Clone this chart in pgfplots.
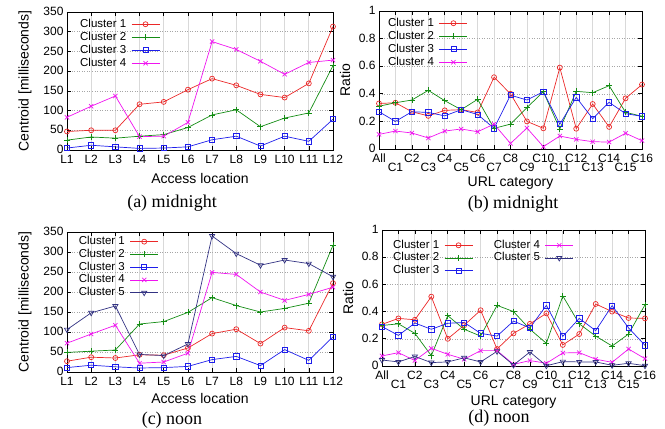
\documentclass[border=0pt]{standalone}
\usepackage{fontspec}
\setmainfont{Liberation Sans}
\newfontfamily\capfont{Liberation Serif}
\usepackage{pgfplots}
\pgfplotsset{compat=1.18}

\definecolor{cA}{RGB}{235,40,40}
\definecolor{cB}{RGB}{20,140,20}
\definecolor{cC}{RGB}{30,30,235}
\definecolor{cD}{RGB}{240,20,240}
\definecolor{cE}{RGB}{50,50,130}

\pgfplotsset{
  cl1/.style={cA, mark=o, mark size=2.5pt, line width=0.7pt, mark options={solid}},
  cl2/.style={cB, mark=+, mark size=3pt, line width=0.7pt, mark options={solid}},
  cl3/.style={cC, mark=square, mark size=2.6pt, line width=0.7pt, mark options={solid}},
  cl4/.style={cD, mark=x, mark size=3pt, line width=0.7pt, mark options={solid}},
  cl5/.style={cE, mark=triangle, mark size=3pt, line width=0.7pt, mark options={solid, rotate=180}},
  base/.style={
    scale only axis,
    clip=false,
    axis line style={line width=0.8pt},
    tick align=inside,
    major tick length=4pt,
    tick style={black, line width=0.6pt},
    grid=major,
    x grid style={gray!30, line width=0.8pt},
    y grid style={gray!70, line width=0.5pt, dotted},
    tick label style={font=\fontsize{12}{12}\selectfont},
    xticklabel style={yshift=-1.5pt},
    yticklabel style={yshift=0.5pt},
    label style={font=\fontsize{14}{14}\selectfont},
    /pgf/number format/assume math mode=true,
    legend plot pos=right,
    legend cell align=left,
    legend image code/.code={\draw[mark repeat=2,mark phase=2,##1] plot coordinates {(0pt,0pt)(14pt,0pt)(28pt,0pt)};},
    legend style={draw=none, fill=none, inner sep=0pt, anchor=north west,
      font=\fontsize{11.5}{12}\selectfont,
      nodes={inner sep=1pt, text height=8.5pt, text depth=2.5pt},
      /tikz/every odd column/.append style={column sep=4pt}},
  },
  lat/.style={
    xmin=1, xmax=12, ymin=0, ymax=350,
    xtick={1,...,12},
    xticklabels={L1,L2,L3,L4,L5,L6,L7,L8,L9,L10,L11,L12},
    ytick={0,50,...,350},
    xlabel={Access location},
    ylabel={Centroid [milliseconds]},
  },
  url/.style={
    xmin=0, xmax=16, ymin=0, ymax=1,
    xtick={0,2,...,16},
    xticklabels={All,C2,C4,C6,C8,C10,C12,C14,C16},
    extra x ticks={1,3,...,15},
    extra x tick labels={C1,C3,C5,C7,C9,C11,C13,C15},
    extra x tick style={grid=major, xticklabel style={yshift=-9.5pt}},
    ytick={0,0.2,0.4,0.6,0.8,1},
    yticklabels={0,0.2,0.4,0.6,0.8,1},
    xlabel={URL category},
    ylabel={Ratio},
  },
}

\begin{document}
\begin{tikzpicture}
\useasboundingbox (0,0) rectangle (665pt,429pt);

% (a) midnight, access location
\begin{axis}[base, lat, at={(67pt,279pt)}, anchor=south west, width=266pt, height=138pt,
  xlabel style={at={(axis description cs:0.5,-0.203)}, anchor=center},
  ylabel style={at={(axis description cs:-0.158,0.5)}, anchor=center},
  legend style={at={(axis description cs:0.045,0.96)}}]
\addplot[cl1] coordinates {(1,47)(2,50)(3,50)(4,116)(5,122)(6,153)(7,181)(8,164)(9,141)(10,133)(11,169)(12,313)};
\addlegendentry{Cluster 1}
\addplot[cl2] coordinates {(1,25)(2,33)(3,30)(4,35)(5,39)(6,57)(7,89)(8,102)(9,59)(10,81)(11,94)(12,214)};
\addlegendentry{Cluster 2}
\addplot[cl3] coordinates {(1,5)(2,12)(3,8)(4,4)(5,5)(6,8)(7,26)(8,35)(9,10)(10,35)(11,22)(12,78)};
\addlegendentry{Cluster 3}
\addplot[cl4] coordinates {(1,83)(2,111)(3,137)(4,34)(5,35)(6,70)(7,275)(8,255)(9,225)(10,192)(11,222)(12,228)};
\addlegendentry{Cluster 4}
\end{axis}

% (b) midnight, URL category
\begin{axis}[base, url, at={(379pt,280pt)}, anchor=south west, width=263pt, height=138pt,
  xlabel style={at={(axis description cs:0.5,-0.246)}, anchor=center},
  ylabel style={at={(axis description cs:-0.129,0.5)}, anchor=center},
  legend style={at={(axis description cs:0.03,0.96)}}]
\addplot[cl1] coordinates {(0,0.33)(1,0.335)(2,0.27)(3,0.24)(4,0.28)(5,0.285)(6,0.265)(7,0.52)(8,0.40)(9,0.20)(10,0.15)(11,0.59)(12,0.147)(13,0.326)(14,0.16)(15,0.367)(16,0.467)};
\addlegendentry{Cluster 1}
\addplot[cl2] coordinates {(0,0.31)(1,0.335)(2,0.355)(3,0.425)(4,0.35)(5,0.285)(6,0.36)(7,0.15)(8,0.18)(9,0.30)(10,0.415)(11,0.145)(12,0.418)(13,0.408)(14,0.459)(15,0.266)(16,0.237)};
\addlegendentry{Cluster 2}
\addplot[cl3] coordinates {(0,0.27)(1,0.20)(2,0.27)(3,0.265)(4,0.24)(5,0.285)(6,0.25)(7,0.15)(8,0.39)(9,0.355)(10,0.415)(11,0.18)(12,0.374)(13,0.22)(14,0.338)(15,0.256)(16,0.237)};
\addlegendentry{Cluster 3}
\addplot[cl4] coordinates {(0,0.106)(1,0.13)(2,0.116)(3,0.08)(4,0.13)(5,0.145)(6,0.125)(7,0.18)(8,0.04)(9,0.152)(10,0.017)(11,0.094)(12,0.07)(13,0.053)(14,0.05)(15,0.114)(16,0.06)};
\addlegendentry{Cluster 4}
\end{axis}

% (c) noon, access location
\begin{axis}[base, lat, at={(67pt,57pt)}, anchor=south west, width=266pt, height=140pt,
  xlabel style={at={(axis description cs:0.5,-0.186)}, anchor=center},
  ylabel style={at={(axis description cs:-0.158,0.5)}, anchor=center},
  legend style={at={(axis description cs:0.04,0.978)}, nodes={text height=8.3pt, text depth=2.45pt}}]
\addplot[cl1] coordinates {(1,27)(2,37)(3,35)(4,43)(5,42)(6,60)(7,96)(8,107)(9,71)(10,111)(11,103)(12,222)};
\addlegendentry{Cluster 1}
\addplot[cl2] coordinates {(1,49)(2,52)(3,55)(4,120)(5,126)(6,149)(7,186)(8,166)(9,150)(10,159)(11,172)(12,317)};
\addlegendentry{Cluster 2}
\addplot[cl3] coordinates {(1,11)(2,17)(3,13)(4,10)(5,11)(6,14)(7,31)(8,39)(9,16)(10,56)(11,29)(12,88)};
\addlegendentry{Cluster 3}
\addplot[cl4] coordinates {(1,72)(2,95)(3,117)(4,22)(5,25)(6,47)(7,249)(8,244)(9,200)(10,179)(11,194)(12,212)};
\addlegendentry{Cluster 4}
\addplot[cl5] coordinates {(1,106)(2,148)(3,165)(4,44)(5,41)(6,70)(7,340)(8,296)(9,267)(10,280)(11,271)(12,238)};
\addlegendentry{Cluster 5}
\end{axis}

% (d) noon, URL category
\begin{axis}[base, url, at={(382pt,63pt)}, anchor=south west, width=263pt, height=136pt,
  xlabel style={at={(axis description cs:0.5,-0.265)}, anchor=center},
  ylabel style={at={(axis description cs:-0.129,0.5)}, anchor=center},
  legend columns=2,
  legend style={at={(axis description cs:0.038,0.936)}, nodes={text height=8.3pt, text depth=2.45pt},
    /tikz/every even column/.append style={column sep=20pt}}]
\addplot[cl1, forget plot] coordinates {(0,0.306)(1,0.35)(2,0.34)(3,0.51)(4,0.20)(5,0.30)(6,0.41)(7,0.125)(8,0.24)(9,0.31)(10,0.387)(11,0.155)(12,0.235)(13,0.456)(14,0.40)(15,0.353)(16,0.35)};
\addplot[cl2, forget plot] coordinates {(0,0.298)(1,0.31)(2,0.24)(3,0.076)(4,0.37)(5,0.27)(6,0.22)(7,0.446)(8,0.40)(9,0.27)(10,0.167)(11,0.515)(12,0.31)(13,0.22)(14,0.147)(15,0.235)(16,0.45)};
\addplot[cl3, forget plot] coordinates {(0,0.29)(1,0.225)(2,0.316)(3,0.27)(4,0.314)(5,0.32)(6,0.24)(7,0.22)(8,0.33)(9,0.28)(10,0.446)(11,0.218)(12,0.35)(13,0.26)(14,0.444)(15,0.28)(16,0.152)};
\addplot[cl4, forget plot] coordinates {(0,0.074)(1,0.098)(2,0.04)(3,0.13)(4,0.086)(5,0.05)(6,0.113)(7,0.113)(8,0.012)(9,0.04)(10,0.02)(11,0.096)(12,0.098)(13,0.05)(14,0.027)(15,0.125)(16,0.054)};
\addplot[cl5, forget plot] coordinates {(0,0.044)(1,0.03)(2,0.07)(3,0.025)(4,0.03)(5,0.06)(6,0.03)(7,0.108)(8,0.007)(9,0.103)(10,0.002)(11,0.032)(12,0.03)(13,0.03)(14,0.005)(15,0.02)(16,0.002)};
\addlegendimage{cl1}\addlegendentry{Cluster 1}
\addlegendimage{cl4}\addlegendentry{Cluster 4}
\addlegendimage{cl2}\addlegendentry{Cluster 2}
\addlegendimage{cl5}\addlegendentry{Cluster 5}
\addlegendimage{cl3}\addlegendentry{Cluster 3}
\end{axis}

\node[font=\capfont\fontsize{18}{18}\selectfont] at (172pt,226pt) {(a) midnight};
\node[font=\capfont\fontsize{18}{18}\selectfont] at (513pt,225pt) {(b) midnight};
\node[font=\capfont\fontsize{18}{18}\selectfont] at (172pt,9pt) {(c) noon};
\node[font=\capfont\fontsize{18}{18}\selectfont] at (499pt,11pt) {(d) noon};
\end{tikzpicture}
\end{document}
